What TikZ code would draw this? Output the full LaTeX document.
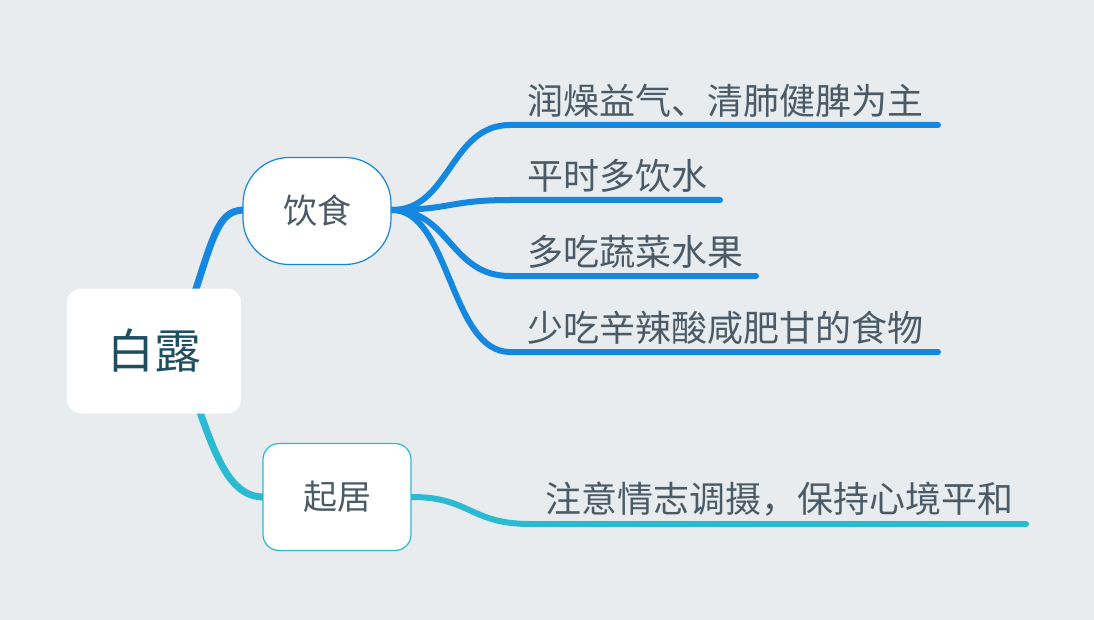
\documentclass[tikz,border=0pt]{standalone}
\usepackage{fontspec}
\setmainfont{Noto Sans CJK SC}
\definecolor{bg}{HTML}{E8ECEF}
\definecolor{blu}{HTML}{1487E0}
\definecolor{cya}{HTML}{2ABBD3}
\definecolor{txt}{HTML}{4A5A66}
\definecolor{roottxt}{HTML}{1F4E5F}
\begin{document}
\begin{tikzpicture}[x=1pt,y=-1pt,
  topic/.style={draw,fill=white,rounded corners=46pt,line width=1.2pt,minimum width=148pt,minimum height=107pt,font=\fontsize{34}{38}\selectfont,text=txt},
  leaf/.style={anchor=south west,font=\fontsize{36}{40}\selectfont,text=txt,inner sep=0pt},
  br/.style={line width=7pt,line cap=round}]
\fill[bg] (0,0) rectangle (1094,620);
\useasboundingbox (0,0) rectangle (1094,620);
% root branches
\draw[blu,br] (195,292) .. controls (215,230) and (220,210) .. (245,210);
\draw[cya,br] (200,412) .. controls (220,470) and (235,497) .. (264,497);
\node[fill=white,rounded corners=14pt,minimum width=174pt,minimum height=125pt,font=\fontsize{47}{52}\selectfont,text=roottxt] (root) at (154,351) {白露};
% leaves
\coordinate (h1) at (392,210);
\coordinate (l1) at (510,125); \coordinate (e1) at (938,125);
\coordinate (l2) at (510,200); \coordinate (e2) at (720,200);
\coordinate (l3) at (510,276); \coordinate (e3) at (756,276);
\coordinate (l4) at (510,352); \coordinate (e4) at (938,352);
\foreach \i in {1,2,3,4}{
  \draw[blu,line width=6pt,line cap=round] (h1) .. controls (450,210) and (450,\ifnum\i=1 125\else\ifnum\i=2 200\else\ifnum\i=3 276\else 352\fi\fi\fi) .. (l\i) -- (e\i);
}
\coordinate (h2) at (412,497);
\coordinate (l5) at (530,524); \coordinate (e5) at (1026,524);
\draw[cya,line width=6pt,line cap=round] (h2) .. controls (470,497) and (470,524) .. (l5) -- (e5);
\node[topic,draw=blu] (yinshi) at (317,211) {饮食};
\node[topic,draw=cya,rounded corners=16pt] (qiju) at (337,497) {起居};
\node[leaf] at (527,118) {润燥益气、清肺健脾为主};
\node[leaf] at (527,193) {平时多饮水};
\node[leaf] at (527,269) {多吃蔬菜水果};
\node[leaf] at (527,345) {少吃辛辣酸咸肥甘的食物};
\node[leaf] at (545,517) {注意情志调摄，保持心境平和};
\end{tikzpicture}
\end{document}
